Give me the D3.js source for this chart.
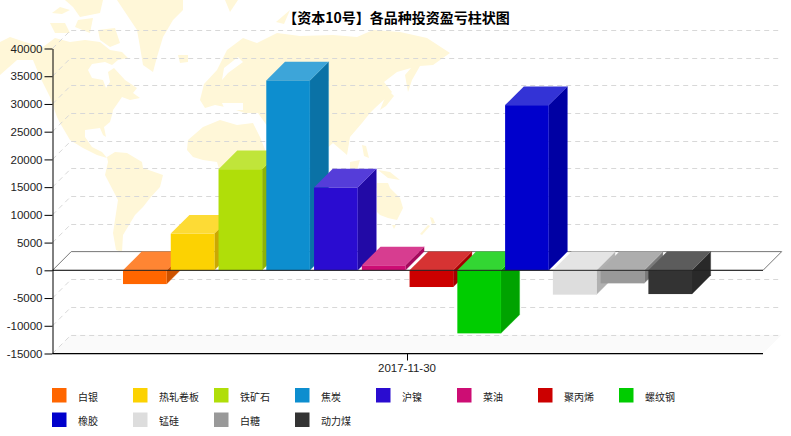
<!DOCTYPE html>
<html>
<head>
<meta charset="utf-8">
<script src="https://cdn.jsdelivr.net/npm/d3@7"></script>
<style>
  html, body { margin: 0; padding: 0; background: #fff; }
  text { font-family: "Liberation Sans", sans-serif; }
  .cjk { font-family: "Noto Sans CJK SC", sans-serif; }
</style>
</head>
<body>
<div id="chart"></div>
<script>
const titleText = "【资本10号】各品种投资盈亏柱状图";
const dateLabel = "2017-11-30";
const categories = ["白银", "热轧卷板", "铁矿石", "焦炭", "沪镍", "菜油", "聚丙烯", "螺纹钢", "橡胶", "锰硅", "白糖", "动力煤"];
const values = [-2480, 6620, 18230, 34240, 14930, 900, -3010, -11370, 29790, -4390, -2350, -4280];
const colours = ["#FF6600", "#FCD202", "#B0DE09", "#0D8ECF", "#2A0CD0", "#CD0D74", "#CC0000", "#00CC00", "#0000CC", "#DDDDDD", "#999999", "#333333"];
const tickValues = [-15000, -10000, -5000, 0, 5000, 10000, 15000, 20000, 25000, 30000, 35000, 40000];

// background map outlines (decoration only)
const mapShapes = [
  // north america
  [[0,42],[10,37],[25,42],[43,47],[55,38],[70,42],[85,40],[100,42],[110,50],[122,52],[128,58],[118,60],[112,65],[105,62],[92,64],[88,70],[92,78],[103,80],[106,88],[110,82],[108,72],[114,68],[125,80],[137,88],[133,93],[140,98],[130,100],[122,97],[113,110],[112,115],[110,122],[104,127],[106,137],[103,135],[100,128],[85,130],[85,137],[92,147],[102,152],[107,158],[97,155],[83,148],[70,140],[60,123],[57,117],[50,97],[40,77],[33,60],[17,60],[0,75]],
  // arctic islands
  [[52,13],[60,7],[70,10],[62,14]],
  [[65,0],[103,0],[100,13],[80,17],[73,7]],
  [[50,23],[65,23],[70,33],[55,33]],
  [[78,20],[93,18],[90,33],[75,27]],
  [[98,30],[115,28],[120,43],[110,47],[100,40]],
  // greenland, iceland
  [[117,0],[183,0],[183,10],[173,20],[163,37],[157,57],[153,72],[143,65],[140,47],[137,30],[127,15]],
  [[178,55],[188,55],[188,62],[180,63]],
  // south america
  [[107,157],[115,152],[127,153],[142,162],[143,168],[163,175],[160,187],[150,198],[143,207],[135,215],[123,235],[122,252],[116,250],[113,233],[118,200],[105,175],[108,162]],
  // eurasia
  [[200,100],[204,84],[217,70],[227,50],[243,38],[257,43],[277,33],[300,36],[333,35],[357,37],[373,30],[400,32],[427,38],[450,53],[433,65],[420,66],[412,80],[408,92],[405,75],[411,68],[397,72],[384,82],[392,92],[387,97],[375,108],[370,113],[362,123],[350,137],[347,155],[333,143],[325,150],[310,130],[290,150],[270,130],[258,113],[245,113],[230,108],[215,105],[205,108]],
  [[225,0],[238,0],[230,12]],
  [[276,22],[290,10],[284,24]],
  // africa
  [[187,150],[188,140],[203,127],[220,120],[237,125],[253,123],[260,137],[268,157],[290,157],[270,190],[255,225],[235,225],[225,190],[217,162],[203,160],[193,157]],
  // islands of south east asia, australia, new zealand
  [[388,90],[394,96],[386,106],[380,110],[384,100]],
  [[362,145],[366,146],[369,158],[364,156]],
  [[350,162],[360,160],[357,170],[350,170]],
  [[378,170],[390,172],[400,180],[388,178]],
  [[377,183],[388,183],[390,188],[400,198],[403,208],[397,220],[388,218],[380,215],[377,212]],
  [[392,225],[396,225],[394,229]],
  [[430,217],[433,218],[435,223],[432,224]],
  [[428,225],[430,226],[422,235],[420,234]]
];
// seas that cut into the land
const mapSeas = [
  [[238,57],[243,62],[228,73],[222,80],[224,68]],
  [[222,103],[243,103],[243,110],[225,110]]
];

const width = 791;
const height = 436;
const depth = 18.7;
const left = 52.5;
const right = 763;
const top_ = 48.5;
const bottom = 353.5;

const svg = d3.select("#chart").append("svg").attr("width", width).attr("height", height).style("display", "block");

const xScale = d3.scaleBand().domain(categories).range([123, 692]).paddingInner(0.087);
const yScale = d3.scaleLinear().domain([-15000, 40000]).range([bottom, top_]);
const zero = yScale(0);

const poly = d3.line();
const lighter = (c) => d3.interpolateRgb(c, "#fff")(0.2);
const darker = (c) => d3.interpolateRgb(c, "#000")(0.2);

svg.append("g").selectAll("path").data(mapShapes).enter().append("path")
  .attr("d", (d) => poly(d) + "Z")
  .attr("fill", "#FFF7D8");
svg.append("g").selectAll("path").data(mapSeas).enter().append("path")
  .attr("d", (d) => poly(d) + "Z")
  .attr("fill", "#fff");

// floor
svg.append("path")
  .attr("d", poly([[left, bottom], [right, bottom], [right + depth, bottom - depth], [left + depth, bottom - depth]]) + "Z")
  .attr("fill", "#FAFAFA");

// grid on the back wall and the left wall
tickValues.filter((t) => t !== 0).forEach((t) => {
  const gy = Math.round(yScale(t) - depth) + 0.5;
  svg.append("line").attr("x1", left + depth).attr("x2", right + depth - 3).attr("y1", gy).attr("y2", gy)
    .attr("stroke", "#D8D8D8").attr("stroke-dasharray", "5,4");
  svg.append("line").attr("x1", left).attr("x2", left + depth).attr("y1", yScale(t)).attr("y2", yScale(t) - depth)
    .attr("stroke", "#D8D8D8").attr("stroke-dasharray", "5,4");
});

// zero plane
svg.append("path")
  .attr("d", poly([[left, zero], [right, zero], [right + depth, zero - depth], [left + depth, zero - depth]]) + "Z")
  .attr("fill", "#fff").attr("stroke", "#777").attr("stroke-width", 1);

// bars, painted left to right so later fronts cover earlier sides
const bars = svg.append("g").selectAll("g")
  .data(categories.map((c, i) => ({ name: c, value: values[i], colour: colours[i] })))
  .enter().append("g");

bars.append("path")
  .attr("d", (d) => {
    const x1 = xScale(d.name) + xScale.bandwidth();
    const y0 = yScale(d.value);
    return poly([[x1, zero], [x1, y0], [x1 + depth, y0 - depth], [x1 + depth, zero - depth]]) + "Z";
  })
  .attr("fill", (d) => darker(d.colour))
  .attr("stroke", (d) => d.colour).attr("stroke-opacity", 0.35).attr("stroke-width", 0.8);

bars.append("path")
  .attr("d", (d) => {
    const x0 = xScale(d.name);
    const x1 = x0 + xScale.bandwidth();
    const yt = yScale(Math.max(d.value, 0));
    return poly([[x0, yt], [x1, yt], [x1 + depth, yt - depth], [x0 + depth, yt - depth]]) + "Z";
  })
  .attr("fill", (d) => lighter(d.colour));

bars.append("rect")
  .attr("x", (d) => xScale(d.name))
  .attr("y", (d) => yScale(Math.max(d.value, 0)))
  .attr("width", xScale.bandwidth())
  .attr("height", (d) => Math.abs(yScale(d.value) - zero))
  .attr("fill", (d) => d.colour);

// front edge of the zero plane
svg.append("line").attr("x1", left).attr("x2", right).attr("y1", zero).attr("y2", zero).attr("stroke", "#222");

// axes
const yAxis = svg.append("g").attr("transform", `translate(${left},0)`)
  .call(d3.axisLeft(yScale).tickValues(tickValues).tickFormat((d) => String(d)).tickSize(8).tickPadding(2).tickSizeOuter(0));
yAxis.selectAll("text").attr("font-size", 11.5).attr("fill", "#222").style("font-family", '"Liberation Sans", sans-serif');
yAxis.selectAll("line, path").attr("stroke", "#000");

svg.append("line").attr("x1", left).attr("x2", right).attr("y1", bottom + 1).attr("y2", bottom + 1).attr("stroke", "#bbb");
svg.append("line").attr("x1", left).attr("x2", right).attr("y1", bottom).attr("y2", bottom).attr("stroke", "#000");
svg.append("line").attr("x1", 407.5).attr("x2", 407.5).attr("y1", bottom).attr("y2", bottom + 7).attr("stroke", "#000");
svg.append("text").attr("x", 407).attr("y", 372).attr("text-anchor", "middle").attr("font-size", 11.5).attr("fill", "#222").text(dateLabel);

// title
svg.append("text").attr("class", "cjk").attr("x", 396.5).attr("y", 23).attr("text-anchor", "middle")
  .attr("font-size", 14).attr("font-weight", "bold").attr("fill", "#000").text(titleText);

// legend
const legend = svg.append("g").selectAll("g")
  .data(categories.map((c, i) => ({ name: c, colour: colours[i], col: i % 8, row: Math.floor(i / 8) })))
  .enter().append("g")
  .attr("transform", (d) => `translate(${52 + d.col * 81},${388 + d.row * 24.5})`);
legend.append("rect").attr("width", 14.5).attr("height", 14.5).attr("fill", (d) => d.colour);
legend.append("text").attr("class", "cjk").attr("x", 26).attr("y", 12.5).attr("font-size", 10).attr("fill", "#222").text((d) => d.name);
</script>
</body>
</html>
